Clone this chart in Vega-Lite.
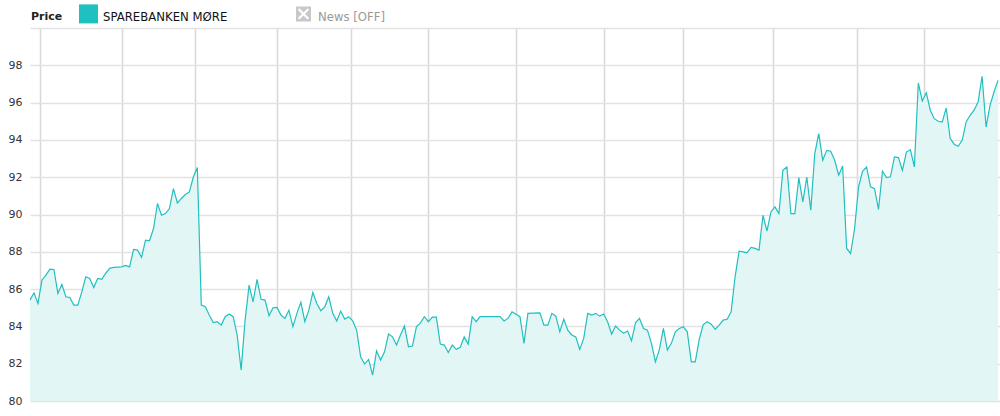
{
  "$schema": "https://vega.github.io/schema/vega-lite/v6.json",
  "width": 970,
  "height": 373,
  "autosize": {"type": "none"},
  "padding": {"left": 30, "top": 28, "right": 0, "bottom": 15},
  "background": "white",
  "data": {
    "values": [
      {"d": 0, "p": 85.41}, {"d": 1, "p": 85.8}, {"d": 2, "p": 85.23}, {"d": 3, "p": 86.48},
      {"d": 4, "p": 86.75}, {"d": 5, "p": 87.07}, {"d": 6, "p": 87.05}, {"d": 7, "p": 85.77},
      {"d": 8, "p": 86.25}, {"d": 9, "p": 85.59}, {"d": 10, "p": 85.55}, {"d": 11, "p": 85.14},
      {"d": 12, "p": 85.14}, {"d": 13, "p": 85.85}, {"d": 14, "p": 86.66}, {"d": 15, "p": 86.57},
      {"d": 16, "p": 86.09}, {"d": 17, "p": 86.57}, {"d": 18, "p": 86.52}, {"d": 19, "p": 86.84},
      {"d": 20, "p": 87.11}, {"d": 21, "p": 87.16}, {"d": 23, "p": 87.19}, {"d": 24, "p": 87.27},
      {"d": 25, "p": 87.19}, {"d": 26, "p": 88.13}, {"d": 27, "p": 88.09}, {"d": 28, "p": 87.7},
      {"d": 29, "p": 88.62}, {"d": 30, "p": 88.59}, {"d": 31, "p": 89.25}, {"d": 32, "p": 90.59},
      {"d": 33, "p": 89.96}, {"d": 34, "p": 90.05}, {"d": 35, "p": 90.32}, {"d": 36, "p": 91.39},
      {"d": 37, "p": 90.62}, {"d": 38, "p": 90.86}, {"d": 39, "p": 91.07}, {"d": 40, "p": 91.21},
      {"d": 41, "p": 92.01}, {"d": 42, "p": 92.52}, {"d": 43, "p": 85.14}, {"d": 44, "p": 85.05},
      {"d": 45, "p": 84.61}, {"d": 46, "p": 84.21}, {"d": 47, "p": 84.25}, {"d": 48, "p": 84.07},
      {"d": 49, "p": 84.52}, {"d": 50, "p": 84.66}, {"d": 51, "p": 84.52}, {"d": 52, "p": 83.54},
      {"d": 53, "p": 81.66}, {"d": 54, "p": 84.34}, {"d": 55, "p": 86.21}, {"d": 56, "p": 85.32},
      {"d": 57, "p": 86.52}, {"d": 58, "p": 85.45}, {"d": 59, "p": 85.41}, {"d": 60, "p": 84.57},
      {"d": 61, "p": 85.0}, {"d": 62, "p": 85.02}, {"d": 63, "p": 84.61}, {"d": 64, "p": 84.43},
      {"d": 65, "p": 84.87}, {"d": 66, "p": 83.98}, {"d": 67, "p": 84.7}, {"d": 68, "p": 85.3},
      {"d": 69, "p": 84.25}, {"d": 70, "p": 84.87}, {"d": 71, "p": 85.82}, {"d": 72, "p": 85.23},
      {"d": 73, "p": 84.84}, {"d": 74, "p": 85.05}, {"d": 75, "p": 85.59}, {"d": 76, "p": 84.7},
      {"d": 77, "p": 84.29}, {"d": 78, "p": 84.82}, {"d": 79, "p": 84.39}, {"d": 80, "p": 84.52},
      {"d": 81, "p": 84.3}, {"d": 82, "p": 83.8}, {"d": 83, "p": 82.37}, {"d": 84, "p": 81.98},
      {"d": 85, "p": 82.23}, {"d": 86, "p": 81.39}, {"d": 87, "p": 82.69}, {"d": 88, "p": 82.2},
      {"d": 89, "p": 82.64}, {"d": 90, "p": 83.59}, {"d": 91, "p": 83.44}, {"d": 92, "p": 83.0},
      {"d": 93, "p": 83.54}, {"d": 94, "p": 84.02}, {"d": 95, "p": 82.91}, {"d": 96, "p": 82.95},
      {"d": 97, "p": 83.98}, {"d": 98, "p": 84.19}, {"d": 99, "p": 84.52}, {"d": 100, "p": 84.25},
      {"d": 101, "p": 84.5}, {"d": 102, "p": 84.5}, {"d": 103, "p": 83.05}, {"d": 104, "p": 83.0},
      {"d": 105, "p": 82.6}, {"d": 106, "p": 83.0}, {"d": 107, "p": 82.77}, {"d": 108, "p": 82.88},
      {"d": 109, "p": 83.44}, {"d": 110, "p": 83.05}, {"d": 111, "p": 84.52}, {"d": 112, "p": 84.25},
      {"d": 113, "p": 84.52}, {"d": 118, "p": 84.52}, {"d": 119, "p": 84.29}, {"d": 120, "p": 84.43},
      {"d": 121, "p": 84.78}, {"d": 123, "p": 84.52}, {"d": 124, "p": 83.09}, {"d": 125, "p": 84.7},
      {"d": 128, "p": 84.73}, {"d": 129, "p": 84.07}, {"d": 130, "p": 84.07}, {"d": 131, "p": 84.7},
      {"d": 132, "p": 84.55}, {"d": 133, "p": 83.71}, {"d": 134, "p": 84.39}, {"d": 135, "p": 83.8},
      {"d": 136, "p": 83.54}, {"d": 137, "p": 83.44}, {"d": 138, "p": 82.77}, {"d": 139, "p": 83.36},
      {"d": 140, "p": 84.7}, {"d": 141, "p": 84.61}, {"d": 142, "p": 84.7}, {"d": 143, "p": 84.55},
      {"d": 144, "p": 84.66}, {"d": 145, "p": 84.25}, {"d": 146, "p": 83.59}, {"d": 147, "p": 84.02},
      {"d": 148, "p": 83.8}, {"d": 149, "p": 83.63}, {"d": 150, "p": 83.75}, {"d": 151, "p": 83.23},
      {"d": 152, "p": 84.19}, {"d": 153, "p": 84.43}, {"d": 154, "p": 83.89}, {"d": 155, "p": 83.8},
      {"d": 156, "p": 83.09}, {"d": 157, "p": 82.1}, {"d": 158, "p": 82.77}, {"d": 159, "p": 83.89},
      {"d": 160, "p": 82.73}, {"d": 161, "p": 83.09}, {"d": 162, "p": 83.71}, {"d": 163, "p": 83.89},
      {"d": 164, "p": 83.98}, {"d": 165, "p": 83.71}, {"d": 166, "p": 82.1}, {"d": 167, "p": 82.1},
      {"d": 168, "p": 83.3}, {"d": 169, "p": 84.1}, {"d": 170, "p": 84.25}, {"d": 171, "p": 84.12},
      {"d": 172, "p": 83.84}, {"d": 173, "p": 84.07}, {"d": 174, "p": 84.34}, {"d": 175, "p": 84.38},
      {"d": 176, "p": 84.78}, {"d": 177, "p": 86.66}, {"d": 178, "p": 88.03}, {"d": 179, "p": 88.0},
      {"d": 180, "p": 87.94}, {"d": 181, "p": 88.23}, {"d": 182, "p": 88.18}, {"d": 183, "p": 88.09},
      {"d": 184, "p": 89.96}, {"d": 185, "p": 89.11}, {"d": 186, "p": 90.14}, {"d": 187, "p": 90.41},
      {"d": 188, "p": 90.05}, {"d": 189, "p": 92.37}, {"d": 190, "p": 92.55}, {"d": 191, "p": 90.05},
      {"d": 192, "p": 90.05}, {"d": 193, "p": 91.98}, {"d": 194, "p": 90.68}, {"d": 195, "p": 92.01},
      {"d": 196, "p": 90.23}, {"d": 197, "p": 93.27}, {"d": 198, "p": 94.34}, {"d": 199, "p": 92.91},
      {"d": 200, "p": 93.44}, {"d": 201, "p": 93.39}, {"d": 202, "p": 92.91}, {"d": 203, "p": 92.11},
      {"d": 204, "p": 92.6}, {"d": 205, "p": 88.18}, {"d": 206, "p": 87.91}, {"d": 207, "p": 89.25},
      {"d": 208, "p": 91.48}, {"d": 209, "p": 92.32}, {"d": 210, "p": 92.55}, {"d": 211, "p": 91.48},
      {"d": 212, "p": 91.39}, {"d": 213, "p": 90.27}, {"d": 214, "p": 92.32}, {"d": 215, "p": 91.98},
      {"d": 216, "p": 92.02}, {"d": 217, "p": 93.09}, {"d": 218, "p": 93.05}, {"d": 219, "p": 92.37},
      {"d": 220, "p": 93.35}, {"d": 221, "p": 93.48}, {"d": 222, "p": 92.55}, {"d": 223, "p": 97.05},
      {"d": 224, "p": 96.09}, {"d": 225, "p": 96.53}, {"d": 226, "p": 95.59}, {"d": 227, "p": 95.14},
      {"d": 228, "p": 95.0}, {"d": 229, "p": 94.96}, {"d": 230, "p": 95.71}, {"d": 231, "p": 94.07},
      {"d": 232, "p": 93.77}, {"d": 233, "p": 93.66}, {"d": 234, "p": 93.98}, {"d": 235, "p": 94.96},
      {"d": 236, "p": 95.32}, {"d": 237, "p": 95.59}, {"d": 238, "p": 96.03}, {"d": 239, "p": 97.41},
      {"d": 240, "p": 94.69}, {"d": 241, "p": 95.85}, {"d": 242, "p": 96.57}, {"d": 243, "p": 97.19}
    ]
  },
  "encoding": {
    "x": {
      "field": "d",
      "type": "quantitative",
      "scale": {"domain": [0, 243.5], "nice": false, "zero": false},
      "axis": {
        "values": [2.5, 23, 41.5, 62, 80.5, 100, 122, 144, 164, 186.5, 207.5, 224.5],
        "labels": false,
        "ticks": false,
        "domain": false,
        "title": null,
        "grid": true,
        "gridColor": "#d8d8d8",
        "gridWidth": 1.5
      }
    },
    "y": {
      "field": "p",
      "type": "quantitative",
      "scale": {"domain": [80, 100], "nice": false, "zero": false},
      "axis": {
        "values": [80, 82, 84, 86, 88, 90, 92, 94, 96, 98, 100],
        "labelExpr": "datum.value >= 100 ? '' : datum.label",
        "ticks": false,
        "domain": false,
        "title": null,
        "grid": true,
        "gridColor": "#e2e2e2",
        "gridWidth": 1.5,
        "labelPadding": 8,
        "labelFont": "DejaVu Sans",
        "labelFontSize": 11,
        "labelColor": "#333333"
      }
    }
  },
  "layer": [
    {
      "mark": {"type": "area", "color": "#e2f7f5", "clip": true}
    },
    {
      "mark": {"type": "line", "strokeWidth": 1.2, "clip": true},
      "encoding": {
        "color": {
          "datum": "SPAREBANKEN MØRE",
          "type": "nominal",
          "scale": {"domain": ["SPAREBANKEN MØRE", "News [OFF]"], "range": ["#22bfbf", "#cccccc"]},
          "legend": {
            "orient": "none",
            "legendX": 1,
            "legendY": -24,
            "direction": "horizontal",
            "title": "Price",
            "titleOrient": "left",
            "titleFont": "DejaVu Sans",
            "titleFontSize": 11,
            "titleFontWeight": "bold",
            "titleColor": "#222222",
            "titlePadding": 16,
            "titleBaseline": "middle",
            "labelFont": "DejaVu Sans",
            "labelFontSize": 11.7,
            "labelOffset": 5,
            "columnPadding": 66,
            "symbolType": "square",
            "symbolSize": 361,
            "encode": {
              "title": {
                "update": {"dy": {"value": 3}}
              },
              "symbols": {
                "update": {
                  "fill": {"signal": "datum.value === 'News [OFF]' ? '#c8c8c8' : '#1fc0c0'"},
                  "stroke": {"value": "transparent"},
                  "strokeWidth": {"value": 0},
                  "size": {"signal": "datum.value === 'News [OFF]' ? 225 : 361"},
                  "shape": {"signal": "datum.value === 'News [OFF]' ? 'M-1,-1H1V1H-1ZM0,-0.2L-0.55,-0.75L-0.75,-0.55L-0.2,0L-0.75,0.55L-0.55,0.75L0,0.2L0.55,0.75L0.75,0.55L0.2,0L0.75,-0.55L0.55,-0.75Z' : 'square'"}
                }
              },
              "labels": {
                "update": {
                  "fill": {"signal": "datum.value === 'News [OFF]' ? '#9a9a9a' : '#111111'"},
                  "dy": {"value": 3}
                }
              }
            }
          }
        }
      }
    }
  ],
  "config": {
    "view": {"stroke": null}
  }
}
